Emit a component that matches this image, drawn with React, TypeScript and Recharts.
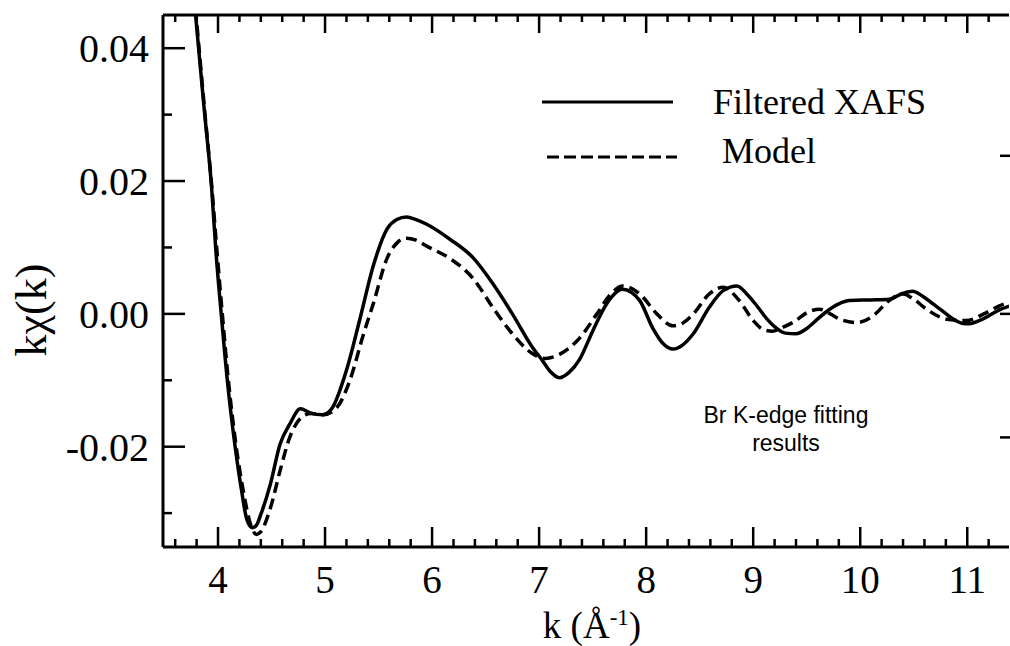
import React from "react";
import { LineChart, Line, XAxis, YAxis, Legend, Customized, ReferenceLine } from "recharts";

// Filtered XAFS (solid)
const xafsK = [
  3.78, 3.87, 3.94, 3.98, 4.03, 4.09, 4.16, 4.22, 4.27, 4.32, 4.36, 4.4, 4.49, 4.58, 4.67,
  4.77, 4.86, 4.98, 5.07, 5.2, 5.33, 5.45, 5.58, 5.67, 5.76, 5.85, 5.95, 6.17, 6.38, 6.57,
  6.75, 6.94, 7.03, 7.1, 7.19, 7.28, 7.38, 7.5, 7.63, 7.78, 7.94, 8.06, 8.16, 8.25, 8.34,
  8.44, 8.59, 8.72, 8.85, 8.94, 9.03, 9.13, 9.22, 9.3, 9.4, 9.5, 9.6, 9.69, 9.8, 9.9, 10.1,
  10.27, 10.4, 10.49, 10.58, 10.68, 10.78, 10.86, 10.95, 11.02, 11.1, 11.2, 11.3, 11.4,
];
const xafsChi = [
  0.0468, 0.031, 0.019, 0.0095, 0.0, -0.0105, -0.02, -0.0266, -0.031, -0.0322, -0.0318,
  -0.0302, -0.0256, -0.0196, -0.0166, -0.0143, -0.0149, -0.0152, -0.0141, -0.0085, -0.0005,
  0.0072, 0.0128, 0.0142, 0.0146, 0.0142, 0.0135, 0.0112, 0.0085, 0.0045, 0.0, -0.0051,
  -0.007, -0.0086, -0.0096, -0.0088, -0.0068, -0.0026, 0.0015, 0.0037, 0.002, -0.0021,
  -0.0045, -0.0053, -0.0047, -0.003, 0.001, 0.0035, 0.0042, 0.003, 0.0013, -0.0008,
  -0.0022, -0.0029, -0.003, -0.0022, -0.0008, 0.0004, 0.0015, 0.002, 0.0021, 0.0022,
  0.0031, 0.0034, 0.0027, 0.0015, 0.0003, -0.0007, -0.0014, -0.0015, -0.0011, -0.0003,
  0.0006, 0.0012,
];

// Model (dashed)
const modelK = [
  3.79, 3.87, 3.94, 3.99, 4.04, 4.1, 4.17, 4.24, 4.3, 4.36, 4.4, 4.49, 4.58, 4.67, 4.78,
  4.87, 4.98, 5.11, 5.23, 5.36, 5.45, 5.58, 5.68, 5.76, 5.85, 5.95, 6.17, 6.38, 6.57, 6.75,
  6.94, 7.06, 7.19, 7.38, 7.54, 7.66, 7.78, 7.94, 8.1, 8.25, 8.34, 8.44, 8.59, 8.72, 8.87,
  9.0, 9.1, 9.18, 9.28, 9.37, 9.53, 9.62, 9.72, 9.81, 9.97, 10.12, 10.27, 10.4, 10.5,
  10.62, 10.81, 10.99, 11.18, 11.3, 11.4,
];
const modelChi = [
  0.046, 0.0315, 0.0195, 0.0095, 0.0, -0.0105, -0.02, -0.027, -0.0315, -0.0332, -0.0328,
  -0.0292, -0.0236, -0.0186, -0.0156, -0.015, -0.0152, -0.0141, -0.0101, -0.003, 0.0015,
  0.0084, 0.0108, 0.0114, 0.0111, 0.0102, 0.0083, 0.0054, 0.0009, -0.003, -0.006, -0.0067,
  -0.0061, -0.0036, 0.0, 0.0028, 0.0042, 0.003, 0.0, -0.0018, -0.0014, 0.0, 0.003, 0.004,
  0.002, -0.001, -0.0024, -0.0026, -0.002, -0.0013, 0.0004, 0.0007, 0.0, -0.0008, -0.0013,
  -0.0003, 0.002, 0.003, 0.0022, 0.0007, -0.0008, -0.001, 0.0002, 0.0012, 0.0018,
];

const xTicks = [
  3.6, 3.8, 4, 4.2, 4.4, 4.6, 4.8, 5, 5.2, 5.4, 5.6, 5.8, 6, 6.2, 6.4, 6.6, 6.8, 7, 7.2,
  7.4, 7.6, 7.8, 8, 8.2, 8.4, 8.6, 8.8, 9, 9.2, 9.4, 9.6, 9.8, 10, 10.2, 10.4, 10.6, 10.8,
  11, 11.2,
];
const yTicks = [-0.03, -0.02, -0.01, 0, 0.01, 0.02, 0.03, 0.04];
const rightTicks = [0.0238, 0, -0.0186];

const xafsData = xafsK.map((k, i) => ({ k, chi: xafsChi[i] }));
const modelData = modelK.map((k, i) => ({ k, chi: modelChi[i] }));

const X_DOMAIN = [3.486, 11.39];
const Y_DOMAIN = [-0.0351, 0.045];

// plot frame (pixels)
const PLOT_LEFT = 163;
const PLOT_TOP = 15;
const PLOT_BOTTOM = 547;
const PLOT_RIGHT = 1009;

const SERIF = '"Liberation Serif", "Times New Roman", serif';
const SANS = '"Liberation Sans", Arial, sans-serif';

const isMajorX = (v: number) => Number.isInteger(v);
const isMajorY = (v: number) => Math.round(v * 100) % 2 === 0;

// bottom + top ticks, pointing inward
const XTick = ({ x, payload }: any) => {
  const major = isMajorX(payload.value);
  return (
    <g>
      <line x1={x} x2={x} y1={PLOT_BOTTOM} y2={PLOT_BOTTOM - (major ? 20 : 8)} stroke="#000" strokeWidth={2.5} />
      <line x1={x} x2={x} y1={PLOT_TOP} y2={PLOT_TOP + (major ? 18 : 7)} stroke="#000" strokeWidth={2.5} />
      {major && (
        <text x={x} y={PLOT_BOTTOM + 46} textAnchor="middle" fontSize={39} fontFamily={SERIF} fill="#000">
          {payload.value}
        </text>
      )}
    </g>
  );
};

const YTick = ({ y, payload }: any) => {
  const major = isMajorY(payload.value);
  return (
    <g>
      <line x1={PLOT_LEFT} x2={PLOT_LEFT + (major ? 22 : 9)} y1={y} y2={y} stroke="#000" strokeWidth={2.5} />
      {major && (
        <text x={PLOT_LEFT - 14} y={y} dy="0.35em" textAnchor="end" fontSize={40} fontFamily={SERIF} fill="#000">
          {payload.value.toFixed(2)}
        </text>
      )}
    </g>
  );
};

const RightTick = ({ y }: any) => (
  <line x1={PLOT_RIGHT + 2} x2={PLOT_RIGHT - 9} y1={y} y2={y} stroke="#000" strokeWidth={2.5} />
);

const XTitle = () => (
  <text x={592} y={638} textAnchor="middle" fontSize={37} fontFamily={SERIF} fill="#000">
    k (Å
    <tspan dy={-13} fontSize={23}>-1</tspan>
    <tspan dy={13}>)</tspan>
  </text>
);

const YTitle = () => (
  <text
    x={0}
    y={0}
    transform="translate(46, 310) rotate(-90)"
    textAnchor="middle"
    fontSize={44}
    fontFamily={SERIF}
    fill="#000"
  >
    kχ(k)
  </text>
);

const LegendBox = () => (
  <svg
    width={1010}
    height={200}
    style={{ position: "absolute", left: 0, top: 0, pointerEvents: "none", overflow: "visible" }}
  >
    <line x1={542} x2={673} y1={102} y2={102} stroke="#000" strokeWidth={3} />
    <text x={713} y={114} fontSize={36} fontFamily={SERIF} fill="#000">
      Filtered XAFS
    </text>
    <line x1={547} x2={677} y1={157} y2={157} stroke="#000" strokeWidth={3} strokeDasharray="12 5" />
    <text x={722} y={163} fontSize={36} fontFamily={SERIF} fill="#000">
      Model
    </text>
  </svg>
);

const Note = () => (
  <g>
    <text x={786} y={423} textAnchor="middle" fontSize={23} fontFamily={SANS} fill="#000">
      Br K-edge fitting
    </text>
    <text x={786} y={451} textAnchor="middle" fontSize={23} fontFamily={SANS} fill="#000">
      results
    </text>
  </g>
);

export default function App() {
  return (
    <div style={{ position: "absolute", left: 0, top: 0, background: "#fff" }}>
      <LineChart width={1010} height={646} margin={{ top: PLOT_TOP, right: 0, bottom: 0, left: 0 }}>
        <XAxis
          dataKey="k"
          type="number"
          domain={X_DOMAIN}
          ticks={xTicks}
          interval={0}
          allowDataOverflow
          height={646 - PLOT_BOTTOM}
          tickSize={0}
          tickMargin={0}
          tickLine={false}
          tick={<XTick />}
          axisLine={{ stroke: "#000", strokeWidth: 3 }}
          label={{ content: () => <XTitle /> }}
        />
        <YAxis
          type="number"
          domain={Y_DOMAIN}
          ticks={yTicks}
          interval={0}
          allowDataOverflow
          width={PLOT_LEFT}
          tickSize={0}
          tickMargin={0}
          tickLine={false}
          tick={<YTick />}
          axisLine={{ stroke: "#000", strokeWidth: 3 }}
          label={{ content: () => <YTitle /> }}
        />
        <YAxis
          yAxisId="right"
          orientation="right"
          type="number"
          domain={Y_DOMAIN}
          ticks={rightTicks}
          interval={0}
          allowDataOverflow
          width={1010 - PLOT_RIGHT}
          tickSize={0}
          tickMargin={0}
          tickLine={false}
          tick={<RightTick />}
          axisLine={false}
        />
        <ReferenceLine y={Y_DOMAIN[1]} stroke="#000" strokeWidth={3} />
        <Line
          data={xafsData}
          dataKey="chi"
          name="Filtered XAFS"
          type="monotone"
          stroke="#000"
          strokeWidth={3.5}
          dot={false}
          isAnimationActive={false}
        />
        <Line
          data={modelData}
          dataKey="chi"
          name="Model"
          type="monotone"
          stroke="#000"
          strokeWidth={3.5}
          strokeDasharray="11 6"
          dot={false}
          isAnimationActive={false}
        />
        <Legend
          content={() => <LegendBox />}
          wrapperStyle={{ position: "absolute", left: 0, top: 0, width: 0, height: 0 }}
        />
        <Customized component={Note} />
      </LineChart>
    </div>
  );
}
